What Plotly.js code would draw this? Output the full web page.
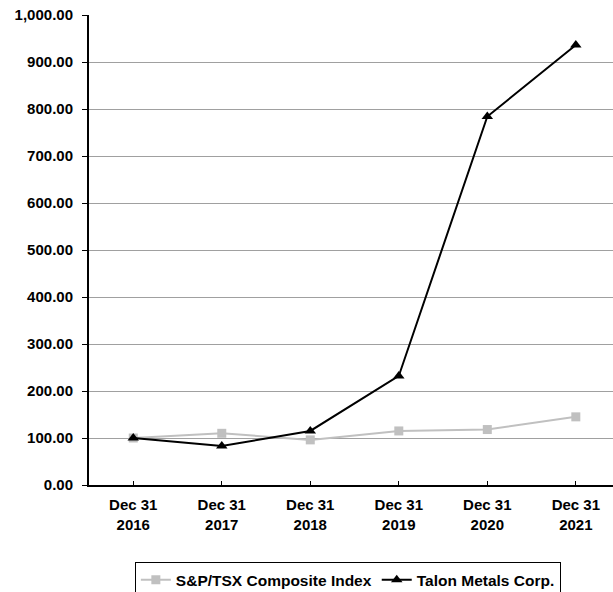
<!DOCTYPE html>
<html>
<head>
<meta charset="utf-8">
<script src="https://cdn.plot.ly/plotly-3.0.1.min.js"></script>
<style>html,body{margin:0;padding:0;background:#fff;}#chart{width:613px;height:592px;}</style>
</head>
<body>
<div id="chart"></div>
<script>
const categories = ["Dec 31<br>2016", "Dec 31<br>2017", "Dec 31<br>2018", "Dec 31<br>2019", "Dec 31<br>2020", "Dec 31<br>2021"];
const spTsx = [100, 110, 96, 115, 118, 145];
const talon = [100, 83, 115, 232, 784, 936];
const yTickVals = [0, 100, 200, 300, 400, 500, 600, 700, 800, 900, 1000];
const yTickText = ["0.00", "100.00", "200.00", "300.00", "400.00", "500.00", "600.00", "700.00", "800.00", "900.00", "1,000.00"];

const fam = "Liberation Sans, Arial, sans-serif";
const xIdx = categories.map((_, i) => i);

const traces = [
  {x: xIdx, y: spTsx, name: "S&P/TSX Composite Index", type: "scatter", mode: "lines+markers",
   line: {color: "#c0c0c0", width: 2}, marker: {symbol: "square", size: 9, color: "#c0c0c0"}},
  {x: xIdx, y: talon, name: "Talon Metals Corp.", type: "scatter", mode: "lines+markers",
   line: {color: "#000000", width: 2}, marker: {symbol: "triangle-up", size: 10, color: "#000000"}}
];

const layout = {
  width: 613, height: 592,
  margin: {l: 89, r: 0, t: 15, b: 107, autoexpand: false},
  paper_bgcolor: "#fff", plot_bgcolor: "#fff",
  font: {family: fam, size: 15, color: "#000"},
  showlegend: true,
  legend: {orientation: "h", x: 0.494, xanchor: "center", y: -0.164, yanchor: "top",
    bordercolor: "#000", borderwidth: 1, font: {family: fam, size: 15.5, color: "#000", weight: "bold"},
    itemwidth: 30, tracegroupgap: 0},
  xaxis: {
    type: "linear", range: [-0.5, 5.42], tickvals: xIdx, ticktext: categories,
    showgrid: false, zeroline: false, showline: true, linecolor: "#000", linewidth: 2,
    ticks: "inside", ticklen: 4, tickcolor: "#000", tickwidth: 1, ticklabelstandoff: 5,
    tickfont: {family: fam, size: 15, color: "#000", weight: "bold"},
    fixedrange: true
  },
  yaxis: {
    range: [0, 1000], tickvals: yTickVals, ticktext: yTickText,
    showgrid: true, gridcolor: "#a0a0a0", gridwidth: 1, zeroline: false,
    showline: true, linecolor: "#000", linewidth: 2,
    ticks: "outside", ticklen: 5, tickcolor: "#000", tickwidth: 1, ticklabelstandoff: 6,
    tickfont: {family: fam, size: 15, color: "#000", weight: "bold"},
    fixedrange: true
  }
};

Plotly.newPlot("chart", traces, layout, {displayModeBar: false, staticPlot: true});
</script>
</body>
</html>
